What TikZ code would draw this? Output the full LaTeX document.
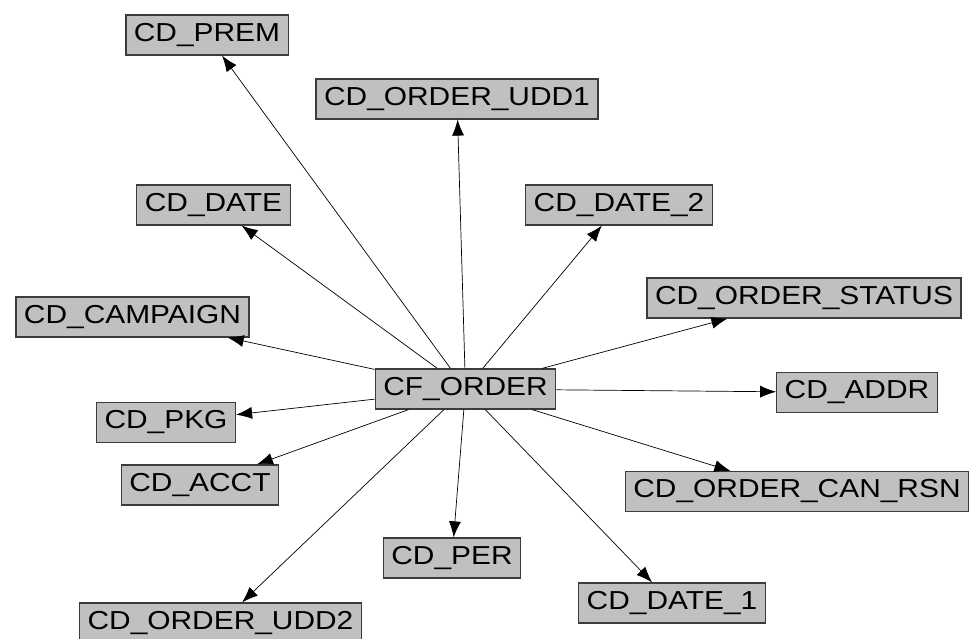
\documentclass[tikz,border=0pt]{standalone}
\usepackage{fontspec}
\setmainfont{Liberation Sans}[FakeStretch=1.15]
\usetikzlibrary{arrows.meta}
\definecolor{boxfill}{RGB}{192,192,192}
\definecolor{boxline}{RGB}{60,60,60}
\begin{document}
\begin{tikzpicture}[x=1pt,y=-1pt,
  entity/.style={draw=boxline,line width=1.2pt,fill=boxfill,minimum height=40pt,
    inner xsep=8pt,inner ysep=0pt,font=\fontsize{26}{30}\selectfont,text=black},
  link/.style={draw=black,line width=0.7pt,-{Latex[length=16pt,width=12pt]}}]
\useasboundingbox (0,0) rectangle (969,639);
\fill[white] (0,0) rectangle (969,639);
\node[entity] (cf) at (465.5,389) {CF\_ORDER};
\node[entity] (prem) at (207,35) {CD\_PREM};
\node[entity] (udd1) at (457,99) {CD\_ORDER\_UDD1};
\node[entity] (date) at (213.5,205) {CD\_DATE};
\node[entity] (date2) at (619,205) {CD\_DATE\_2};
\node[entity] (camp) at (132.5,317) {CD\_CAMPAIGN};
\node[entity] (status) at (804,298) {CD\_ORDER\_STATUS};
\node[entity] (addr) at (857,392.5) {CD\_ADDR};
\node[entity] (pkg) at (166,422.5) {CD\_PKG};
\node[entity] (can) at (797,491.5) {CD\_ORDER\_CAN\_RSN};
\node[entity] (acct) at (200,485) {CD\_ACCT};
\node[entity] (per) at (452,558) {CD\_PER};
\node[entity] (date1) at (672,603) {CD\_DATE\_1};
\node[entity] (udd2) at (220.5,623) {CD\_ORDER\_UDD2};
\foreach \t in {prem,udd1,date,date2,camp,status,addr,pkg,can,acct,per,date1,udd2}
  \draw[link] (cf) -- (\t);
\end{tikzpicture}
\end{document}
